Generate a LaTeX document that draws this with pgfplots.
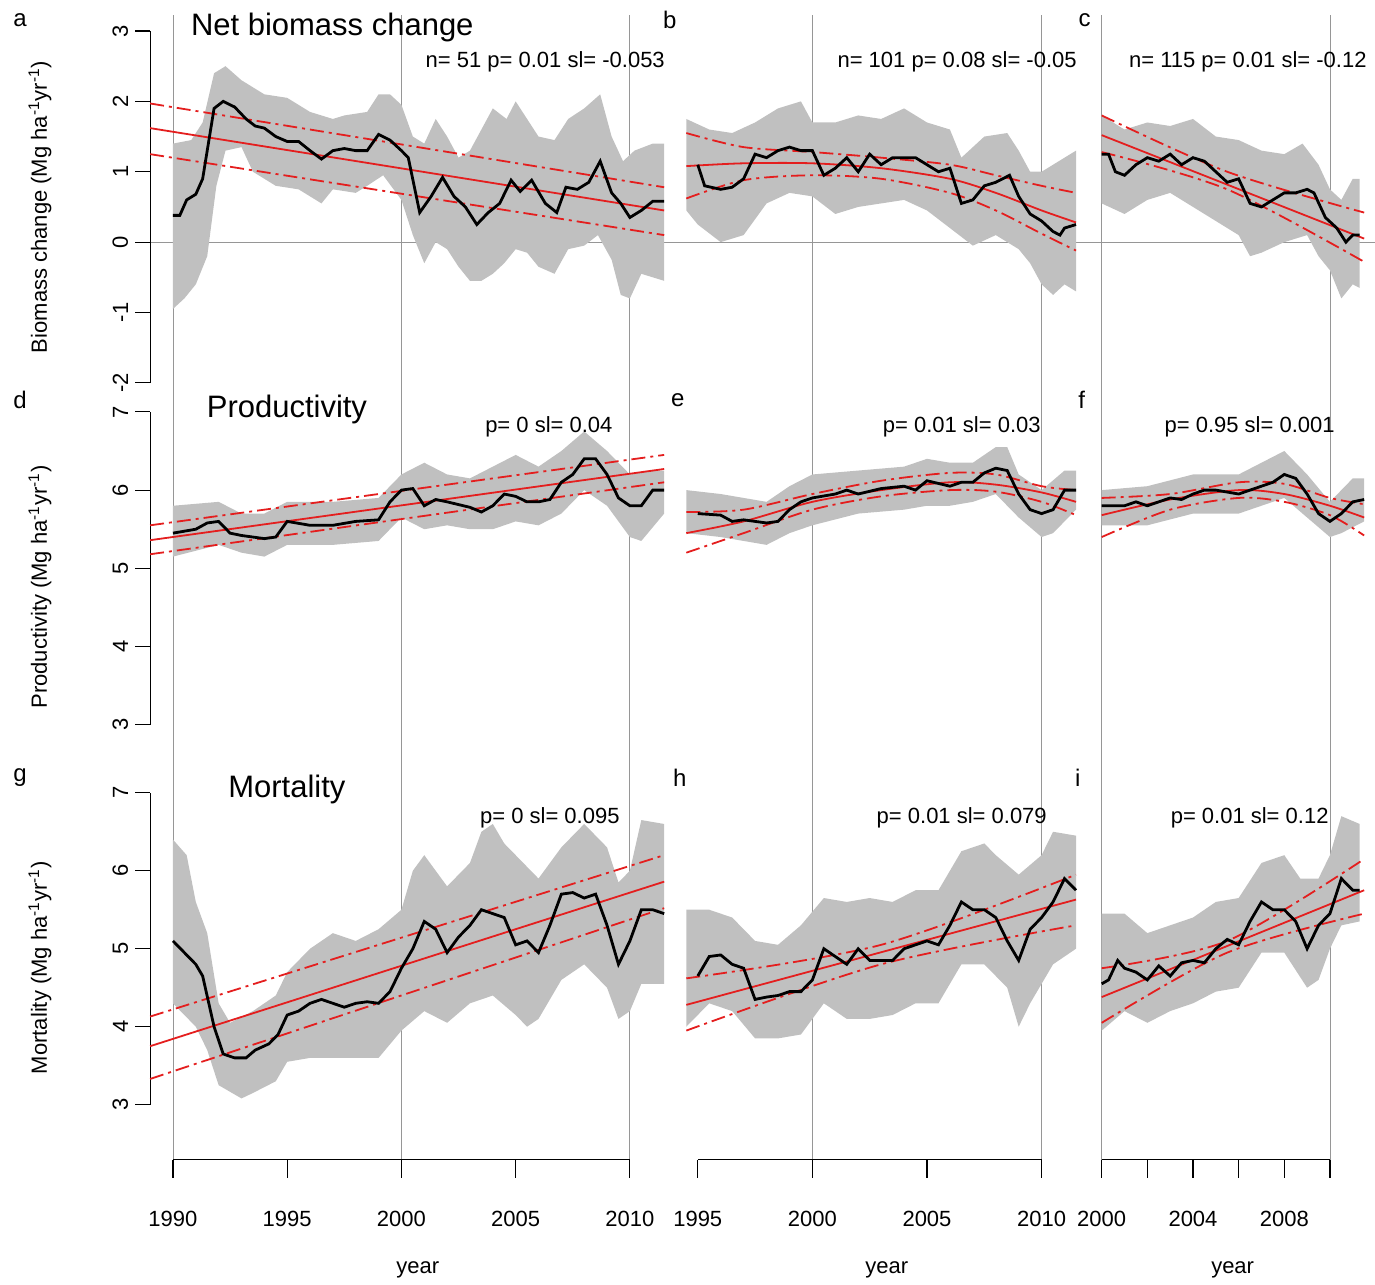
\documentclass[border=0pt]{standalone}
\usepackage{pgfplots}
\pgfplotsset{compat=1.18}
\usepackage{fontspec}
\setmainfont{Liberation Sans}
\definecolor{band}{RGB}{192,192,192}
\definecolor{fitred}{RGB}{228,30,30}
\definecolor{vline}{RGB}{150,150,150}
\newcommand{\px}[2]{({(#1)*0.5pt},{-(#2)*0.5pt})}
\pgfplotsset{
 panel/.style={scale only axis, clip=false, axis lines=none},
 leftpanel/.style={scale only axis, clip=false, axis x line=none, axis y line*=left,
   ytick align=outside, major tick length=7.5pt, yticklabel style={rotate=90,font=\fontsize{11}{13}\selectfont},
   /pgf/number format/assume math mode=true, every outer y axis line/.append style={line width=0.6pt},
   every y tick/.style={line width=0.6pt,black}},
 colaxis/.style={scale only axis, clip=false, ymin=0, ymax=1, height=572.5pt, hide y axis,
   axis x line*=bottom, x axis line style={draw=none}, xtick align=outside, major tick length=9pt,
   every x tick/.style={line width=0.6pt,black},
   xticklabel style={font=\fontsize{11}{13}\selectfont, yshift=-13pt},
   /pgf/number format/1000 sep={}, /pgf/number format/assume math mode=true},
 bandst/.style={fill=band, draw=none},
 blk/.style={black, line width=1.4pt},
 fit/.style={fitred, line width=0.9pt},
 ci/.style={fitred, line width=0.9pt, dash pattern=on 7pt off 2.5pt on 1.5pt off 2.5pt},
}
\begin{document}
\begin{tikzpicture}
\path \px{0}{0} rectangle \px{1375}{1284};
% column background axes
\begin{axis}[colaxis, at={(75.075pt,-580pt)}, anchor=south west, width=257.1pt, xmin=1989, xmax=2011.5, xtick={1990,1995,...,2010}]
\draw[vline] (axis cs:1990,0)--(axis cs:1990,1);
\draw[vline] (axis cs:2000,0)--(axis cs:2000,1);
\draw[vline] (axis cs:2010,0)--(axis cs:2010,1);
\draw[line width=0.6pt] (axis cs:1990,0)--(axis cs:2010,0);
\end{axis}
\begin{axis}[colaxis, at={(343.25pt,-580pt)}, anchor=south west, width=194.9pt, xmin=1994.5, xmax=2011.5, xtick={1995,2000,2005,2010}]
\draw[vline] (axis cs:2000,0)--(axis cs:2000,1);
\draw[vline] (axis cs:2010,0)--(axis cs:2010,1);
\draw[line width=0.6pt] (axis cs:1995,0)--(axis cs:2010,0);
\end{axis}
\begin{axis}[colaxis, at={(545.3pt,-580pt)}, anchor=south west, width=140.4pt, xmin=1999.5, xmax=2011.8, xtick={2000,2002,...,2010}, xticklabels={2000,,2004,,2008,}]
\draw[vline] (axis cs:2000,0)--(axis cs:2000,1);
\draw[vline] (axis cs:2010,0)--(axis cs:2010,1);
\draw[line width=0.6pt] (axis cs:2000,0)--(axis cs:2010,0);
\end{axis}
\draw[vline] \px{150}{242} -- \px{1375}{242};
% ---------- row 1 ----------
\begin{axis}[leftpanel, at={(75.075pt,-191.5pt)}, anchor=south west, width=257.1pt, height=176pt, xmin=1989, xmax=2011.5, ymin=-2, ymax=3, ytick={-2,...,3}]
\addplot[bandst] coordinates {(1990,1.4)(1990.8,1.45)(1991.3,1.7)(1991.8,2.4)(1992.3,2.5)(1993,2.3)(1994,2.1)(1995,2.05)(1996,1.85)(1997,1.75)(1997.5,1.8)(1998.5,1.85)(1999,2.1)(1999.5,2.1)(2000,1.95)(2000.5,1.5)(2001,1.4)(2001.5,1.75)(2002,1.5)(2002.5,1.2)(2003,1.3)(2003.5,1.6)(2004,1.9)(2004.6,1.75)(2005,2.0)(2005.5,1.75)(2006,1.5)(2006.7,1.45)(2007.3,1.75)(2008,1.9)(2008.7,2.1)(2009.2,1.5)(2009.7,1.15)(2010.2,1.3)(2011,1.4)(2011.5,1.4)
(2011.5,-0.55)(2010.5,-0.45)(2010,-0.8)(2009.6,-0.75)(2009.2,-0.25)(2008.6,0.1)(2008,-0.05)(2007.3,-0.1)(2006.7,-0.45)(2006,-0.35)(2005.5,-0.15)(2005,-0.1)(2004.5,-0.3)(2004,-0.45)(2003.5,-0.55)(2003,-0.55)(2002.5,-0.35)(2002,-0.1)(2001.5,0.0)(2001,-0.3)(2000.5,0.1)(2000,0.6)(1999.2,0.95)(1998.5,0.8)(1998,0.7)(1997,0.75)(1996.5,0.55)(1995.5,0.75)(1994.5,0.8)(1993.5,1.0)(1993,1.35)(1992.3,1.3)(1991.9,0.8)(1991.5,-0.2)(1991,-0.6)(1990.5,-0.8)(1990,-0.95)} -- cycle;
\addplot[fit] coordinates {(1989,1.62)(2011.5,0.45)};
\addplot[ci] coordinates {(1989,1.97)(2011.5,0.78)};
\addplot[ci] coordinates {(1989,1.25)(2011.5,0.1)};
\addplot[blk] coordinates {(1990,0.38)(1990.3,0.38)(1990.6,0.6)(1991,0.68)(1991.3,0.9)(1991.6,1.5)(1991.8,1.9)(1992.2,2.0)(1992.7,1.92)(1993.2,1.75)(1993.6,1.65)(1994,1.62)(1994.5,1.5)(1995,1.43)(1995.5,1.43)(1996,1.3)(1996.5,1.18)(1997,1.3)(1997.5,1.33)(1998,1.3)(1998.5,1.3)(1999,1.53)(1999.5,1.45)(2000,1.3)(2000.3,1.2)(2000.8,0.42)(2001.3,0.65)(2001.8,0.92)(2002.3,0.65)(2002.8,0.5)(2003.3,0.25)(2003.8,0.42)(2004.3,0.55)(2004.8,0.88)(2005.2,0.72)(2005.7,0.88)(2006.3,0.55)(2006.8,0.42)(2007.2,0.78)(2007.7,0.75)(2008.2,0.85)(2008.7,1.15)(2009.2,0.7)(2009.6,0.55)(2010,0.35)(2010.5,0.45)(2011,0.58)(2011.5,0.58)};
\end{axis}
\begin{axis}[panel, at={(343.25pt,-191.5pt)}, anchor=south west, width=194.9pt, height=176pt, xmin=1994.5, xmax=2011.5, ymin=-2, ymax=3]
\addplot[bandst] coordinates {(1994.5,1.75)(1995.5,1.6)(1996.5,1.55)(1997.5,1.7)(1998.5,1.9)(1999.5,2.0)(2000,1.7)(2001,1.7)(2002,1.8)(2003,1.75)(2004,1.9)(2005,1.7)(2006,1.6)(2006.5,1.2)(2007.5,1.5)(2008.5,1.55)(2009,1.3)(2009.5,1.0)(2010,1.0)(2011,1.2)(2011.5,1.3)
(2011.5,-0.7)(2011,-0.6)(2010.5,-0.75)(2010,-0.6)(2009.5,-0.3)(2009,-0.1)(2008,0.1)(2007,-0.05)(2006,0.2)(2005,0.45)(2004,0.6)(2003,0.55)(2002,0.5)(2001,0.4)(2000,0.65)(1999,0.7)(1998,0.55)(1997,0.1)(1996,0.0)(1995,0.25)(1994.5,0.45)} -- cycle;
\addplot[fit, smooth] coordinates {(1994.5,1.08)(1997,1.12)(2000,1.12)(2003,1.05)(2006,0.9)(2008,0.7)(2010,0.45)(2011.5,0.28)};
\addplot[ci, smooth] coordinates {(1994.5,1.55)(1997,1.35)(2000,1.28)(2003,1.2)(2006,1.1)(2008,0.95)(2010,0.8)(2011.5,0.7)};
\addplot[ci, smooth] coordinates {(1994.5,0.62)(1997,0.88)(2000,0.95)(2003,0.9)(2006,0.7)(2008,0.45)(2010,0.12)(2011.5,-0.12)};
\addplot[blk] coordinates {(1995,1.1)(1995.3,0.8)(1996,0.75)(1996.5,0.78)(1997,0.9)(1997.5,1.25)(1998,1.2)(1998.5,1.3)(1999,1.35)(1999.5,1.3)(2000,1.3)(2000.5,0.95)(2001,1.05)(2001.5,1.2)(2002,1.0)(2002.5,1.25)(2003,1.1)(2003.5,1.2)(2004,1.2)(2004.5,1.2)(2005,1.1)(2005.5,1.0)(2006,1.05)(2006.5,0.55)(2007,0.6)(2007.5,0.8)(2008,0.85)(2008.6,0.95)(2009,0.65)(2009.5,0.4)(2010,0.3)(2010.5,0.15)(2010.8,0.1)(2011,0.2)(2011.5,0.25)};
\end{axis}
\begin{axis}[panel, at={(545.3pt,-191.5pt)}, anchor=south west, width=140.4pt, height=176pt, xmin=1999.5, xmax=2011.8, ymin=-2, ymax=3]
\addplot[bandst] coordinates {(2000,1.8)(2001,1.6)(2002,1.7)(2003,1.65)(2004,1.75)(2005,1.5)(2006,1.45)(2007,1.3)(2008,1.25)(2008.8,1.4)(2009.5,1.1)(2010,0.75)(2010.5,0.6)(2011,0.9)(2011.3,0.9)
(2011.3,-0.65)(2011,-0.6)(2010.5,-0.8)(2010,-0.4)(2009.5,-0.2)(2009,0.1)(2008,0.0)(2007,-0.15)(2006.5,-0.2)(2006,0.1)(2005,0.3)(2004,0.5)(2003,0.7)(2002,0.6)(2001,0.4)(2000,0.55)} -- cycle;
\addplot[fit] coordinates {(2000,1.52)(2011.5,0.05)};
\addplot[ci, smooth] coordinates {(2000,1.8)(2005.5,1.0)(2011.5,0.42)};
\addplot[ci, smooth] coordinates {(2000,1.28)(2005.5,0.75)(2011.5,-0.28)};
\addplot[blk] coordinates {(2000,1.25)(2000.3,1.25)(2000.6,1.0)(2001,0.95)(2001.5,1.1)(2002,1.2)(2002.5,1.15)(2003,1.25)(2003.5,1.1)(2004,1.2)(2004.5,1.15)(2005,1.0)(2005.5,0.85)(2006,0.9)(2006.5,0.55)(2007,0.5)(2007.5,0.6)(2008,0.7)(2008.5,0.7)(2009,0.75)(2009.3,0.7)(2009.8,0.35)(2010.3,0.2)(2010.7,0.0)(2011,0.1)(2011.3,0.1)};
\end{axis}
% ---------- row 2 ----------
\begin{axis}[leftpanel, at={(75.075pt,-362.5pt)}, anchor=south west, width=257.1pt, height=156.5pt, xmin=1989, xmax=2011.5, ymin=3, ymax=7, ytick={3,...,7}]
\addplot[bandst] coordinates {(1990,5.8)(1992,5.85)(1993,5.7)(1994,5.7)(1995,5.85)(1997,5.85)(1999,5.9)(2000,6.2)(2001,6.35)(2002,6.2)(2003,6.15)(2004,6.3)(2005,6.45)(2006,6.3)(2007,6.5)(2008,6.75)(2009,6.5)(2010,6.2)(2011,6.25)(2011.5,6.25)
(2011.5,5.7)(2010.5,5.35)(2010,5.4)(2009,5.8)(2008,6.0)(2007,5.7)(2006,5.55)(2005,5.6)(2004,5.5)(2003,5.5)(2002,5.55)(2001,5.5)(2000,5.65)(1999,5.35)(1997,5.3)(1995,5.3)(1994,5.15)(1993,5.2)(1992,5.3)(1990,5.15)} -- cycle;
\addplot[fit] coordinates {(1989,5.36)(2011.5,6.27)};
\addplot[ci] coordinates {(1989,5.55)(2011.5,6.45)};
\addplot[ci] coordinates {(1989,5.18)(2011.5,6.1)};
\addplot[blk] coordinates {(1990,5.45)(1991,5.5)(1991.5,5.58)(1992,5.6)(1992.5,5.45)(1993,5.42)(1994,5.38)(1994.5,5.4)(1995,5.6)(1996,5.55)(1997,5.55)(1998,5.6)(1999,5.62)(1999.5,5.85)(2000,6.0)(2000.5,6.02)(2001,5.8)(2001.5,5.88)(2002,5.85)(2003,5.78)(2003.5,5.72)(2004,5.8)(2004.5,5.95)(2005,5.92)(2005.5,5.85)(2006,5.85)(2006.5,5.88)(2007,6.1)(2007.5,6.2)(2008,6.4)(2008.5,6.4)(2009,6.2)(2009.5,5.9)(2010,5.8)(2010.5,5.8)(2011,6.0)(2011.5,6.0)};
\end{axis}
\begin{axis}[panel, at={(343.25pt,-362.5pt)}, anchor=south west, width=194.9pt, height=156.5pt, xmin=1994.5, xmax=2011.5, ymin=3, ymax=7]
\addplot[bandst] coordinates {(1994.5,6.0)(1996,5.95)(1998,5.85)(1999,6.05)(2000,6.2)(2002,6.25)(2004,6.3)(2005,6.4)(2006,6.35)(2007,6.35)(2008,6.55)(2008.5,6.55)(2009,6.2)(2010,6.0)(2011,6.25)(2011.5,6.25)
(2011.5,5.75)(2010.5,5.45)(2010,5.4)(2009,5.65)(2008,5.95)(2007,5.85)(2006,5.8)(2005,5.8)(2004,5.75)(2002,5.7)(2000,5.55)(1999,5.45)(1998,5.3)(1997,5.35)(1996,5.4)(1994.5,5.45)} -- cycle;
\addplot[fit, smooth] coordinates {(1994.5,5.45)(1997,5.6)(2000,5.85)(2003,6.0)(2006,6.1)(2008,6.07)(2010,5.97)(2011.5,5.85)};
\addplot[ci, smooth] coordinates {(1994.5,5.72)(1997,5.75)(2000,5.95)(2003,6.12)(2006,6.22)(2008,6.2)(2010,6.05)(2011.5,6.0)};
\addplot[ci, smooth] coordinates {(1994.5,5.2)(1997,5.45)(2000,5.75)(2003,5.92)(2006,6.0)(2008,5.98)(2010,5.85)(2011.5,5.68)};
\addplot[blk] coordinates {(1995,5.7)(1996,5.68)(1996.5,5.6)(1997,5.62)(1998,5.58)(1998.5,5.6)(1999,5.75)(1999.5,5.85)(2000,5.9)(2001,5.95)(2001.5,6.0)(2002,5.95)(2003,6.02)(2004,6.05)(2004.5,6.0)(2005,6.12)(2006,6.05)(2006.5,6.1)(2007,6.1)(2007.5,6.22)(2008,6.28)(2008.5,6.25)(2009,5.95)(2009.5,5.75)(2010,5.7)(2010.5,5.75)(2011,6.0)(2011.5,6.0)};
\end{axis}
\begin{axis}[panel, at={(545.3pt,-362.5pt)}, anchor=south west, width=140.4pt, height=156.5pt, xmin=1999.5, xmax=2011.8, ymin=3, ymax=7]
\addplot[bandst] coordinates {(2000,6.0)(2002,6.05)(2004,6.2)(2006,6.2)(2007,6.35)(2008,6.5)(2009,6.2)(2010,5.85)(2011,6.15)(2011.5,6.15)
(2011.5,5.6)(2010.5,5.45)(2010,5.4)(2009,5.65)(2008,5.9)(2007,5.8)(2006,5.7)(2004,5.7)(2002,5.55)(2000,5.55)} -- cycle;
\addplot[fit, smooth] coordinates {(2000,5.68)(2003,5.88)(2006,6.0)(2008,5.95)(2010,5.8)(2011.5,5.65)};
\addplot[ci, smooth] coordinates {(2000,5.9)(2003,5.95)(2006,6.1)(2008,6.08)(2010,5.9)(2011.5,5.82)};
\addplot[ci, smooth] coordinates {(2000,5.4)(2003,5.75)(2006,5.9)(2008,5.85)(2010,5.68)(2011.5,5.42)};
\addplot[blk] coordinates {(2000,5.8)(2001,5.8)(2001.5,5.85)(2002,5.8)(2003,5.9)(2003.5,5.88)(2004,5.95)(2004.5,6.0)(2005,6.0)(2006,5.95)(2006.5,6.0)(2007,6.05)(2007.5,6.1)(2008,6.2)(2008.5,6.15)(2009,5.95)(2009.5,5.7)(2010,5.6)(2010.5,5.7)(2011,5.85)(2011.5,5.88)};
\end{axis}
% ---------- row 3 ----------
\begin{axis}[leftpanel, at={(75.075pt,-552.5pt)}, anchor=south west, width=257.1pt, height=156pt, xmin=1989, xmax=2011.5, ymin=3, ymax=7, ytick={3,...,7}]
\addplot[bandst] coordinates {(1990,6.4)(1990.6,6.2)(1991,5.6)(1991.5,5.2)(1992,4.3)(1992.5,4.05)(1993.5,4.2)(1994.5,4.4)(1995,4.7)(1996,5.0)(1997,5.2)(1998,5.1)(1999,5.25)(2000,5.5)(2000.5,6.0)(2001,6.2)(2002,5.8)(2003,6.1)(2003.5,6.5)(2004,6.6)(2004.5,6.35)(2005,6.2)(2006,5.9)(2007,6.3)(2008,6.6)(2009,6.3)(2009.5,5.85)(2010,6.0)(2010.5,6.65)(2011.5,6.6)
(2011.5,4.55)(2010.5,4.55)(2010,4.2)(2009.5,4.1)(2009,4.5)(2008,4.8)(2007,4.6)(2006,4.1)(2005.5,4.0)(2005,4.15)(2004,4.4)(2003,4.3)(2002,4.05)(2001,4.2)(2000,3.95)(1999,3.6)(1998,3.6)(1997,3.6)(1996,3.6)(1995,3.55)(1994.5,3.3)(1993.5,3.15)(1993,3.08)(1992,3.25)(1991.5,3.7)(1991,4.0)(1990,4.3)} -- cycle;
\addplot[fit] coordinates {(1989,3.75)(2011.5,5.86)};
\addplot[ci] coordinates {(1989,4.13)(2011.5,6.2)};
\addplot[ci] coordinates {(1989,3.33)(2011.5,5.52)};
\addplot[blk] coordinates {(1990,5.1)(1990.5,4.95)(1991,4.8)(1991.3,4.65)(1991.8,4.0)(1992.2,3.65)(1992.7,3.6)(1993.2,3.6)(1993.6,3.7)(1994.2,3.78)(1994.6,3.9)(1995,4.15)(1995.5,4.2)(1996,4.3)(1996.5,4.35)(1997,4.3)(1997.5,4.25)(1998,4.3)(1998.5,4.32)(1999,4.3)(1999.5,4.45)(2000,4.75)(2000.5,5.0)(2001,5.35)(2001.5,5.25)(2002,4.95)(2002.5,5.15)(2003,5.3)(2003.5,5.5)(2004,5.45)(2004.5,5.4)(2005,5.05)(2005.5,5.1)(2006,4.95)(2006.5,5.3)(2007,5.7)(2007.5,5.72)(2008,5.65)(2008.5,5.7)(2009,5.3)(2009.5,4.8)(2010,5.1)(2010.5,5.5)(2011,5.5)(2011.5,5.45)};
\end{axis}
\begin{axis}[panel, at={(343.25pt,-552.5pt)}, anchor=south west, width=194.9pt, height=156pt, xmin=1994.5, xmax=2011.5, ymin=3, ymax=7]
\addplot[bandst] coordinates {(1994.5,5.5)(1995.5,5.5)(1996.5,5.4)(1997.5,5.1)(1998.5,5.05)(1999.5,5.3)(2000.5,5.65)(2001.5,5.6)(2002.5,5.65)(2003.5,5.6)(2004.5,5.75)(2005.5,5.75)(2006.5,6.25)(2007.5,6.35)(2008,6.2)(2009,5.95)(2010,6.2)(2010.5,6.5)(2011.5,6.45)
(2011.5,5.0)(2010.5,4.8)(2009.5,4.3)(2009,4.0)(2008.5,4.5)(2007.5,4.8)(2006.5,4.8)(2005.5,4.3)(2004.5,4.3)(2003.5,4.15)(2002.5,4.1)(2001.5,4.1)(2000.5,4.3)(1999.5,3.9)(1998.5,3.85)(1997.5,3.85)(1996.5,4.2)(1995.5,4.3)(1994.5,4.0)} -- cycle;
\addplot[fit] coordinates {(1994.5,4.28)(2011.5,5.63)};
\addplot[ci, smooth] coordinates {(1994.5,4.62)(2003,5.05)(2011.5,5.95)};
\addplot[ci, smooth] coordinates {(1994.5,3.95)(2003,4.8)(2011.5,5.3)};
\addplot[blk] coordinates {(1995,4.65)(1995.5,4.9)(1996,4.92)(1996.5,4.8)(1997,4.75)(1997.5,4.35)(1998,4.38)(1998.5,4.4)(1999,4.45)(1999.5,4.45)(2000,4.6)(2000.5,5.0)(2001,4.9)(2001.5,4.8)(2002,5.0)(2002.5,4.85)(2003,4.85)(2003.5,4.85)(2004,5.0)(2004.5,5.05)(2005,5.1)(2005.5,5.05)(2006,5.3)(2006.5,5.6)(2007,5.5)(2007.5,5.5)(2008,5.4)(2008.5,5.1)(2009,4.85)(2009.5,5.25)(2010,5.4)(2010.5,5.6)(2011,5.9)(2011.5,5.75)};
\end{axis}
\begin{axis}[panel, at={(545.3pt,-552.5pt)}, anchor=south west, width=140.4pt, height=156pt, xmin=1999.5, xmax=2011.8, ymin=3, ymax=7]
\addplot[bandst] coordinates {(2000,5.45)(2001,5.45)(2002,5.2)(2003,5.3)(2004,5.4)(2005,5.6)(2006,5.65)(2007,6.1)(2008,6.2)(2008.7,5.9)(2009.5,5.9)(2010,6.2)(2010.5,6.7)(2011.3,6.6)
(2011.3,5.35)(2010.5,5.3)(2010,5.0)(2009.5,4.6)(2009,4.5)(2008,4.95)(2007,4.95)(2006,4.5)(2005,4.45)(2004,4.3)(2003,4.2)(2002,4.05)(2001,4.2)(2000,3.95)} -- cycle;
\addplot[fit] coordinates {(2000,4.38)(2011.5,5.75)};
\addplot[ci, smooth] coordinates {(2000,4.75)(2005.5,5.1)(2011.5,6.15)};
\addplot[ci, smooth] coordinates {(2000,4.05)(2005.5,4.95)(2011.5,5.45)};
\addplot[blk] coordinates {(2000,4.55)(2000.3,4.6)(2000.7,4.85)(2001,4.75)(2001.5,4.7)(2002,4.6)(2002.5,4.78)(2003,4.65)(2003.5,4.82)(2004,4.85)(2004.5,4.82)(2005,5.0)(2005.5,5.12)(2006,5.05)(2006.5,5.35)(2007,5.6)(2007.5,5.5)(2008,5.5)(2008.5,5.35)(2009,5.0)(2009.5,5.3)(2010,5.45)(2010.5,5.9)(2011,5.75)(2011.3,5.75)};
\end{axis}
% ---------- texts ----------
\begin{scope}[every node/.style={font=\fontsize{12}{14}\selectfont}]
\node at (10pt,-10pt) {a}; \node at (335pt,-10pt) {b}; \node at (542.5pt,-10pt) {c};
\node at (10pt,-200pt) {d}; \node at (339pt,-200pt) {e}; \node at (541pt,-200pt) {f};
\node at (10pt,-389pt) {g}; \node at (340pt,-389pt) {h}; \node at (539pt,-389pt) {i};
\end{scope}
\begin{scope}[every node/.style={font=\fontsize{15.5}{18}\selectfont}]
\node[anchor=west] at (92pt,-14pt) {Net biomass change};
\node at (143.5pt,-205pt) {Productivity};
\node at (143.5pt,-395pt) {Mortality};
\end{scope}
\begin{scope}[every node/.style={font=\fontsize{11}{13}\selectfont}]
\node[anchor=east] at (336pt,-31pt) {n= 51 p= 0.01 sl= -0.053};
\node[anchor=east] at (542pt,-31pt) {n= 101 p= 0.08 sl= -0.05};
\node[anchor=east] at (687pt,-31pt) {n= 115 p= 0.01 sl= -0.12};
\node at (274.5pt,-213.5pt) {p= 0 sl= 0.04};
\node at (481pt,-213.5pt) {p= 0.01 sl= 0.03};
\node at (625pt,-213.5pt) {p= 0.95 sl= 0.001};
\node at (275pt,-409pt) {p= 0 sl= 0.095};
\node at (481pt,-409pt) {p= 0.01 sl= 0.079};
\node at (625pt,-409pt) {p= 0.01 sl= 0.12};
\node at (209pt,-635pt) {year}; \node at (443.5pt,-635pt) {year}; \node at (616.5pt,-635pt) {year};
\node[rotate=90] at (20pt,-103.5pt) {Biomass change (Mg ha\textsuperscript{-1}yr\textsuperscript{-1})};
\node[rotate=90] at (20pt,-293.5pt) {Productivity (Mg ha\textsuperscript{-1}yr\textsuperscript{-1})};
\node[rotate=90] at (20pt,-484pt) {Mortality (Mg ha\textsuperscript{-1}yr\textsuperscript{-1})};
\end{scope}
\end{tikzpicture}
\end{document}
